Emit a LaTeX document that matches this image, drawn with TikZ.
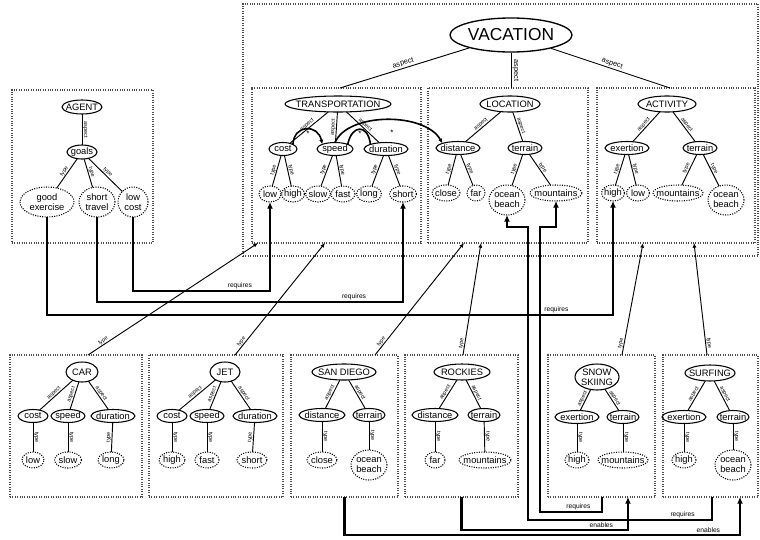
\documentclass[tikz,border=0pt]{standalone}
\usepackage{fontspec}
\setmainfont{Liberation Sans}
\usetikzlibrary{shapes.geometric,arrows.meta}
\begin{document}
\begin{tikzpicture}[x=0.75pt,y=-0.75pt,
  lt/.style={font=\fontsize{7}{7.6}\selectfont, align=center, inner sep=0pt},
  ov/.style n args={3}{ellipse, draw, line width=0.8pt, inner sep=0pt, outer sep=0pt, minimum width=#1*0.75pt, minimum height=#2*0.75pt, label={[lt]center:#3}},
  lv/.style={densely dotted, line width=0.8pt},
  bx/.style n args={2}{rectangle, draw=black!70, densely dotted, line width=0.8pt, inner sep=0pt, outer sep=0pt, minimum width=#1*0.75pt, minimum height=#2*0.75pt},
  edge/.style={line width=0.7pt},
  lab/.style={font=\fontsize{4.1}{4.1}\selectfont, sloped, above, inner sep=0.3pt},
  toplab/.style={font=\fontsize{5.5}{5.5}\selectfont, sloped, above, inner sep=0.8pt},
  rl/.style={font=\fontsize{5}{5}\selectfont, above, inner sep=0.8pt},
  thk/.style={line width=1.8pt},
  tip/.style={-{Latex[length=5pt,width=4.5pt]}},
  ttip/.style={-{Latex[length=3.5pt,width=3pt]}},
]
\fill[white] (0,0) rectangle (760,539);
\useasboundingbox (0,0) rectangle (760,539);

% ---------- boxes
\node[bx={515}{252}] (vbox) at (500.5,130) {};
\node[bx={169}{155}] (tbox) at (336.5,165.5) {};
\node[bx={160}{155}] (lbox) at (508,165.5) {};
\node[bx={158}{155}] (abox) at (676,165.5) {};
\node[bx={141}{153}] (gbox) at (82.5,166.5) {};
\node[bx={132}{142}] (carbox) at (76,426) {};
\node[bx={134}{142}] (jetbox) at (216,426) {};
\node[bx={107}{142}] (sdbox) at (344.5,426) {};
\node[bx={113}{142}] (rbox) at (461.5,426) {};
\node[bx={107}{142}] (snbox) at (601.5,426) {};
\node[bx={95}{142}] (sfbox) at (710.5,426) {};

% ---------- VACATION
\node[ellipse, draw, line width=1pt, inner sep=0pt, minimum width=122*0.75pt, minimum height=34*0.75pt, font=\fontsize{13}{13}\selectfont] (vac) at (511,35) {VACATION};

% ---------- TRANSPORTATION
\node[ov={106}{16}{TRANSPORTATION}] (trans) at (338,104) {};
\node[ov={28}{13}{cost}] (tcost) at (283,149) {};
\node[ov={36}{13}{speed}] (tspeed) at (335,149) {};
\node[ov={44}{13}{duration}] (tdur) at (386,149) {};
\node[ov={22}{16}{low}, lv] (tlow) at (270,194) {};
\node[ov={23}{16}{high}, lv] (thigh) at (293,194) {};
\node[ov={25}{16}{slow}, lv] (tslow) at (318,194) {};
\node[ov={24}{16}{fast}, lv] (tfast) at (343,194) {};
\node[ov={25}{16}{long}, lv] (tlong) at (369,194) {};
\node[ov={27}{16}{short}, lv] (tshort) at (403,194) {};

% ---------- LOCATION
\node[ov={60}{16}{LOCATION}] (loc) at (510,104) {};
\node[ov={44}{13}{distance}] (ldist) at (458,148) {};
\node[ov={34}{13}{terrain}] (lterr) at (525,148) {};
\node[ov={28}{16}{close}, lv] (lclose) at (446,193) {};
\node[ov={18}{16}{far}, lv] (lfar) at (476,193) {};
\node[ov={36}{30}{ocean\\beach}, lv] (locean) at (507,200) {};
\node[ov={52}{16}{mountains}, lv] (lmount) at (556,193) {};

% ---------- ACTIVITY
\node[ov={58}{16}{ACTIVITY}] (act) at (667,104) {};
\node[ov={44}{13}{exertion}] (aexe) at (627,148) {};
\node[ov={34}{13}{terrain}] (aterr) at (700,148) {};
\node[ov={23}{16}{high}, lv] (ahigh) at (613,193) {};
\node[ov={23}{16}{low}, lv] (alow) at (638,193) {};
\node[ov={50}{16}{mountains}, lv] (amount) at (678,193) {};
\node[ov={36}{30}{ocean\\beach}, lv] (aocean) at (726,200) {};

% ---------- AGENT
\node[ov={40}{14}{AGENT}] (agent) at (82,107) {};
\node[ov={30}{14}{goals}] (goals) at (82,152) {};
\node[ov={54}{30}{good\\exercise}, lv] (gex) at (47,202) {};
\node[ov={36}{30}{short\\travel}, lv] (gst) at (97,202) {};
\node[ov={30}{30}{low\\cost}, lv] (glc) at (133,202) {};

% ---------- CAR
\node[ov={32}{20}{CAR}] (car) at (82,372) {};
\node[ov={30}{13}{cost}] (ccost) at (33,416) {};
\node[ov={34}{13}{speed}] (cspeed) at (68,416) {};
\node[ov={44}{13}{duration}] (cdur) at (113,416) {};
\node[ov={22}{16}{low}, lv] (clow) at (33,460) {};
\node[ov={27}{16}{slow}, lv] (cslow) at (68,460) {};
\node[ov={26}{16}{long}, lv] (clong) at (111,460) {};

% ---------- JET
\node[ov={30}{20}{JET}] (jet) at (225,372) {};
\node[ov={30}{13}{cost}] (jcost) at (172,416) {};
\node[ov={34}{13}{speed}] (jspeed) at (207,416) {};
\node[ov={44}{13}{duration}] (jdur) at (255,416) {};
\node[ov={26}{16}{high}, lv] (jhigh) at (172,460) {};
\node[ov={24}{16}{fast}, lv] (jfast) at (207,460) {};
\node[ov={30}{16}{short}, lv] (jshort) at (252,460) {};

% ---------- SAN DIEGO
\node[ov={64}{16}{SAN DIEGO}] (sd) at (344,372) {};
\node[ov={46}{13}{distance}] (sddist) at (322,415) {};
\node[ov={32}{13}{terrain}] (sdterr) at (369,415) {};
\node[ov={30}{16}{close}, lv] (sdclose) at (322,460) {};
\node[ov={36}{30}{ocean\\beach}, lv] (sdocean) at (369,465) {};

% ---------- ROCKIES
\node[ov={56}{16}{ROCKIES}] (rock) at (462,372) {};
\node[ov={46}{13}{distance}] (rdist) at (435,415) {};
\node[ov={32}{13}{terrain}] (rterr) at (484,415) {};
\node[ov={20}{16}{far}, lv] (rfar) at (435,460) {};
\node[ov={52}{16}{mountains}, lv] (rmount) at (485,460) {};

% ---------- SNOW SKIING
\node[ov={44}{26}{SNOW\\SKIING}] (snow) at (597,377) {};
\node[ov={44}{13}{exertion}] (sexe) at (577,417) {};
\node[ov={32}{13}{terrain}] (sterr) at (623,417) {};
\node[ov={24}{16}{high}, lv] (shigh) at (577,460) {};
\node[ov={50}{16}{mountains}, lv] (smount) at (623,460) {};

% ---------- SURFING
\node[ov={50}{16}{SURFING}] (surf) at (710,373) {};
\node[ov={44}{13}{exertion}] (uexe) at (684,417) {};
\node[ov={32}{13}{terrain}] (uterr) at (733,417) {};
\node[ov={24}{16}{high}, lv] (uhigh) at (684,460) {};
\node[ov={36}{30}{ocean\\beach}, lv] (uocean) at (733,465) {};

% ---------- tree edges
\foreach \p/\c in {agent/goals, trans/tcost, trans/tspeed, trans/tdur, loc/ldist, loc/lterr, act/aexe, act/aterr, car/ccost, car/cspeed, car/cdur, jet/jcost, jet/jspeed, jet/jdur, sd/sddist, sd/sdterr, rock/rdist, rock/rterr, snow/sexe, snow/sterr, surf/uexe, surf/uterr}
  \draw[edge] (\p) -- node[lab]{aspect} (\c);
\foreach \p/\c in {goals/gex, goals/gst, goals/glc, tcost/tlow, tcost/thigh, tspeed/tslow, tspeed/tfast, tdur/tlong, tdur/tshort, ldist/lclose, ldist/lfar, lterr/locean, lterr/lmount, aexe/ahigh, aexe/alow, aterr/amount, aterr/aocean, ccost/clow, cspeed/cslow, cdur/clong, jcost/jhigh, jspeed/jfast, jdur/jshort, sddist/sdclose, sdterr/sdocean, rdist/rfar, rterr/rmount, sexe/shigh, sterr/smount, uexe/uhigh, uterr/uocean}
  \draw[edge] (\p) -- node[lab]{type} (\c);

% ---------- VACATION aspects
\draw[edge] (vac) -- node[toplab]{aspect} (340,0 |- tbox.north);
\draw[edge] (vac) -- node[toplab]{aspect} (511,0 |- lbox.north);
\draw[edge] (vac) -- node[toplab]{aspect} (670,0 |- abox.north);

% ---------- starred links
\draw[line width=1.2pt, ttip] (tcost.north east) .. controls (294,124) and (318,124) .. (tspeed.north west);
\node[font=\fontsize{6}{6}\selectfont] (st1) at (308,134) {*};
\draw[line width=1.2pt] (tspeed.north east) .. controls (352,124) and (368,124) .. (tdur.north west);
\node[font=\fontsize{6}{6}\selectfont] (st2) at (360,134) {*};
\draw[line width=1.2pt, ttip] (tspeed.north) .. controls (348,112) and (425,112) .. (ldist.north west);
\node[font=\fontsize{6}{6}\selectfont] (st3) at (392,133) {*};

% ---------- requires from AGENT
\draw[thk,tip] (glc.south) |- node[rl,pos=0.89]{requires} (tlow.south |- 0,291) -- (tlow.south);
\draw[thk,tip] (gst.south) |- node[rl,pos=0.92]{requires} (tshort.south |- 0,302) -- (tshort.south);
\draw[thk,tip] (gex.south) |- node[rl,pos=0.95]{requires} (ahigh.south |- 0,315) -- (ahigh.south);

% ---------- type links from instances
\draw[edge,ttip] (88,0 |- carbox.north) -- node[lab,pos=0.1]{type} (258,0 |- tbox.south);
\draw[edge,ttip] (235,0 |- jetbox.north) -- node[lab,pos=0.1]{type} (325,0 |- tbox.south);
\draw[edge,ttip] (375,0 |- sdbox.north) -- node[lab,pos=0.1]{type} (464,0 |- lbox.south);
\draw[edge,ttip] (463,0 |- rbox.north) -- node[lab,pos=0.1]{type} (481,0 |- lbox.south);
\draw[edge,ttip] (622,0 |- snbox.north) -- node[lab,pos=0.1]{type} (643,0 |- abox.south);
\draw[edge,ttip] (707,0 |- sfbox.north) -- node[lab,pos=0.1]{type} (694,0 |- abox.south);

% ---------- requires / enables at the bottom
\draw[thk,tip] (712,0 |- sfbox.south) |- node[rl,pos=0.58]{requires} (528,520) |- (locean.south |- 0,227) -- (locean.south);
\draw[thk,tip] (602,0 |- snbox.south) |- node[rl,pos=0.69]{requires} (540,512) |- (lmount.south |- 0,227) -- (lmount.south);
\draw[thk,tip] (sdbox.south) |- node[rl,pos=0.96]{enables} (740,535) -- (740,0 |- sfbox.south);
\draw[thk,tip] (rbox.south) |- node[rl,pos=0.92]{enables} (628,530) -- (628,0 |- snbox.south);
\end{tikzpicture}
\end{document}
